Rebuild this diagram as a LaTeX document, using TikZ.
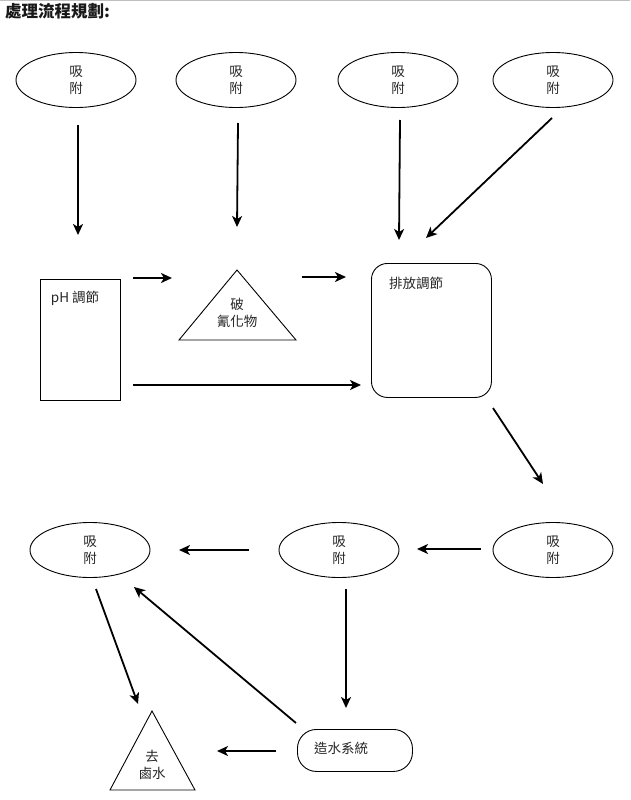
\documentclass[tikz,border=0pt]{standalone}
\usepackage{fontspec}
\setmainfont{Liberation Sans}
\newfontfamily\cjk{Noto Sans CJK TC}
\usetikzlibrary{shapes.geometric,arrows.meta}
\begin{document}
\begin{tikzpicture}[x=1pt,y=-1pt,
 txt/.style={font=\cjk\fontsize{13.5}{17}\selectfont,text=black!85,align=center,inner sep=0pt},
 ell/.style={draw,ellipse,line width=0.9pt,minimum width=120pt,minimum height=55pt,inner sep=0pt,txt},
 arr/.style={line width=1.8pt,-{Stealth[length=11pt,width=10pt,inset=3pt]}},
 box/.style={draw,line width=0.9pt,inner sep=0pt}]
\useasboundingbox (0,0) rectangle (630,800);
\draw[gray!50,line width=1.5pt] (0,0.6) -- (630,0.6);
\node[font=\cjk\bfseries\fontsize{16.5}{19}\selectfont,text=black!90,anchor=west,inner sep=0pt] (title) at (5,11) {處理流程規劃:};
% top ellipses
\node[ell] (e1) at (76,80) {吸\\附};
\node[ell] (e2) at (236,80) {吸\\附};
\node[ell] (e3) at (398,80) {吸\\附};
\node[ell] (e4) at (553,80) {吸\\附};
% pH box
\node[box,minimum width=80pt,minimum height=121pt,anchor=north west] (ph) at (40,279) {};
\node[txt] (phl) at (75,298) {pH 調節};
% triangle
\coordinate (t1a) at (237,270);
\coordinate (t1b) at (179,340);
\coordinate (t1c) at (296,340);
\draw[line width=0.9pt] (t1a) -- (t1b) -- (t1c) -- cycle;
\node[txt] (t1l) at (237,313) {破\\氰化物};
% discharge box
\node[box,rounded corners=16pt,minimum width=120pt,minimum height=134pt,anchor=north west] (dis) at (371,263) {};
\node[txt] (disl) at (416,283) {排放調節};
% bottom ellipses
\node[ell] (b1) at (90,550) {吸\\附};
\node[ell] (b2) at (339,550) {吸\\附};
\node[ell] (b3) at (553,550) {吸\\附};
% water box
\node[box,rounded corners=19pt,minimum width=115pt,minimum height=42pt,anchor=north west] (wat) at (297,729) {};
\node[txt] (watl) at (341,748) {造水系統};
% triangle 2
\coordinate (t2a) at (152,711);
\coordinate (t2b) at (110,790);
\coordinate (t2c) at (195,790);
\draw[line width=0.9pt] (t2a) -- (t2b) -- (t2c) -- cycle;
\node[txt] (t2l) at (152,765) {去\\鹵水};
% arrows
\coordinate (a1s) at (78,125);  \coordinate (a1e) at (78,235);
\coordinate (a2s) at (238,123); \coordinate (a2e) at (237,227);
\coordinate (a3s) at (400,120); \coordinate (a3e) at (399,240);
\coordinate (a4s) at (552,118); \coordinate (a4e) at (426,238);
\coordinate (a5s) at (133,278); \coordinate (a5e) at (172,278);
\coordinate (a6s) at (302,277); \coordinate (a6e) at (346,277);
\coordinate (a7s) at (133,385); \coordinate (a7e) at (361,385);
\coordinate (a8s) at (493,408); \coordinate (a8e) at (543,484);
\coordinate (a9s) at (481,549); \coordinate (a9e) at (417,549);
\coordinate (a10s) at (249,550); \coordinate (a10e) at (179,550);
\coordinate (a11s) at (346,589); \coordinate (a11e) at (346,708);
\coordinate (a12s) at (96,589); \coordinate (a12e) at (138,704);
\coordinate (a13s) at (296,723); \coordinate (a13e) at (134,587);
\coordinate (a14s) at (276,751); \coordinate (a14e) at (217,751);
\foreach \i in {1,...,14} {\draw[arr] (a\i s) -- (a\i e);}
\end{tikzpicture}
\end{document}
